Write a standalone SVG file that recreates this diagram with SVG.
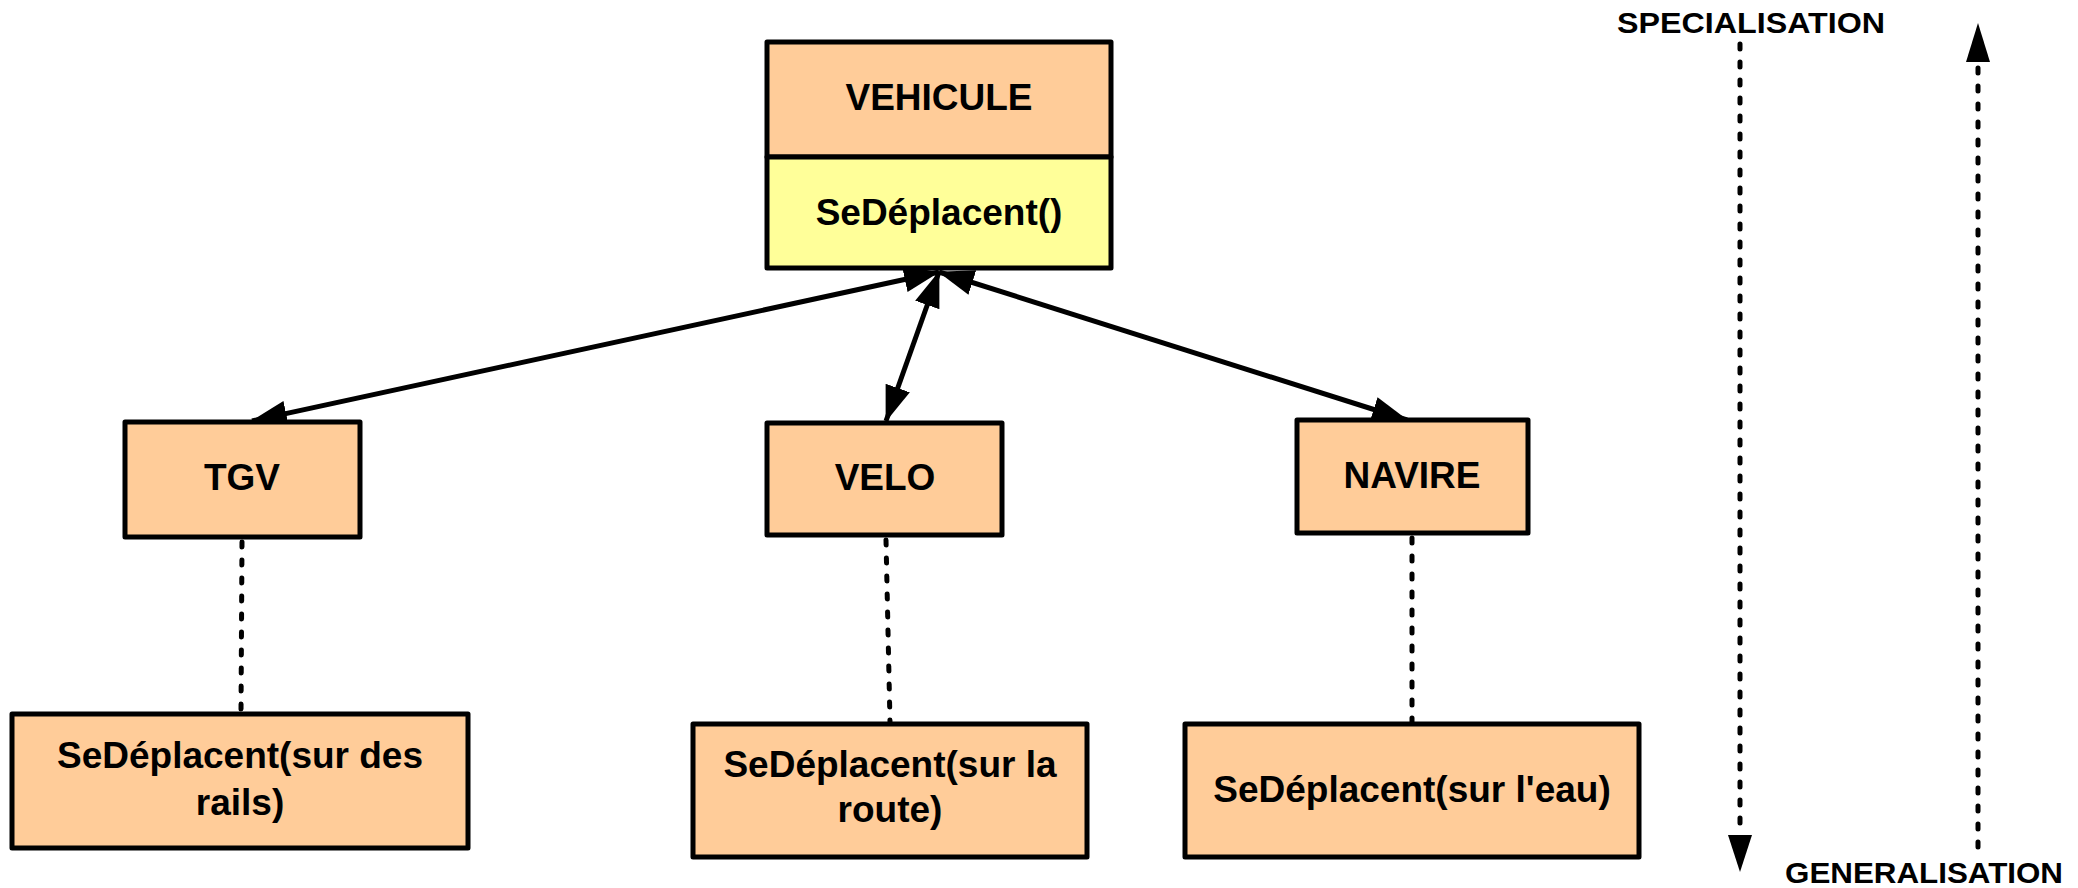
<svg xmlns="http://www.w3.org/2000/svg" width="2078" height="888" viewBox="0 0 2078 888">
  <style>
    .box { stroke: #000; stroke-width: 5; stroke-linejoin: round; }
    .cls { fill: #FFCC99; }
    .ops { fill: #FFFF99; }
    .lbl { font-family: "Liberation Sans", Arial, sans-serif; font-weight: bold; font-size: 37px; fill: #000; text-anchor: middle; }
    .axis { font-family: "Liberation Sans", Arial, sans-serif; font-weight: bold; font-size: 30px; fill: #000; }
    .link { stroke: #000; stroke-width: 5; fill: none; marker-start: url(#head); marker-end: url(#head); }
    .dot { stroke: #000; stroke-width: 5; fill: none; stroke-linecap: round; stroke-dasharray: 5 13; }
  </style>
  <defs>
    <marker id="head" markerUnits="userSpaceOnUse" markerWidth="36" markerHeight="26" viewBox="0 0 35 25" refX="34" refY="12.5" orient="auto-start-reverse">
      <path d="M0,0 L35,12.5 L0,25 z" fill="#000"/>
    </marker>
  </defs>

  <rect width="2078" height="888" fill="#fff"/>

  <!-- inheritance links -->
  <g id="connectors">
    <line class="link" x1="939" y1="272" x2="252" y2="421"/>
    <line class="link" x1="939" y1="272" x2="886" y2="421"/>
    <line class="link" x1="939" y1="272" x2="1407" y2="420"/>
    <line class="dot" x1="242" y1="542" x2="241" y2="712"/>
    <line class="dot" x1="886" y1="540" x2="890" y2="722"/>
    <line class="dot" x1="1412" y1="538" x2="1412" y2="722"/>
  </g>

  <g id="vehicule">
    <rect class="box cls" x="767" y="42" width="344" height="115"/>
    <rect class="box ops" x="767" y="157" width="344" height="111"/>
    <text class="lbl" x="939" y="110">VEHICULE</text>
    <text class="lbl" x="939" y="225">SeDéplacent()</text>
  </g>

  <g id="tgv">
    <rect class="box cls" x="125" y="422" width="235" height="115"/>
    <text class="lbl" x="242" y="490">TGV</text>
  </g>

  <g id="velo">
    <rect class="box cls" x="767" y="423" width="235" height="112"/>
    <text class="lbl" x="885" y="490">VELO</text>
  </g>

  <g id="navire">
    <rect class="box cls" x="1297" y="420" width="231" height="113"/>
    <text class="lbl" x="1412" y="488">NAVIRE</text>
  </g>

  <g id="tgv-move">
    <rect class="box cls" x="12" y="714" width="456" height="134"/>
    <text class="lbl" x="240" y="768">SeDéplacent(sur des</text>
    <text class="lbl" x="240" y="815">rails)</text>
  </g>

  <g id="velo-move">
    <rect class="box cls" x="693" y="724" width="394" height="133"/>
    <text class="lbl" x="890" y="777">SeDéplacent(sur la</text>
    <text class="lbl" x="890" y="822">route)</text>
  </g>

  <g id="navire-move">
    <rect class="box cls" x="1185" y="724" width="454" height="133"/>
    <text class="lbl" x="1412" y="802">SeDéplacent(sur l'eau)</text>
  </g>

  <!-- direction axes -->
  <g id="axes">
    <text class="axis" x="1617" y="33" textLength="268" lengthAdjust="spacingAndGlyphs">SPECIALISATION</text>
    <line class="dot" x1="1740" y1="44" x2="1740" y2="830"/>
    <path d="M1728,835 L1752,835 L1740,872 z" fill="#000"/>
    <line class="dot" x1="1978" y1="68" x2="1978" y2="852"/>
    <path d="M1966,62 L1990,62 L1978,23 z" fill="#000"/>
    <text class="axis" x="1785" y="883" textLength="278" lengthAdjust="spacingAndGlyphs">GENERALISATION</text>
  </g>
</svg>
